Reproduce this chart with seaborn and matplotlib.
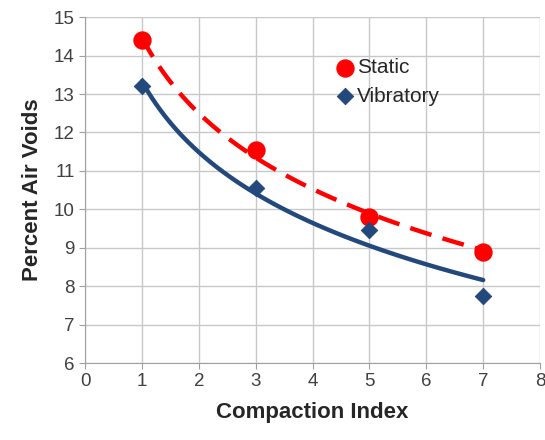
import numpy as np
import pandas as pd
import matplotlib
matplotlib.use("Agg")
import matplotlib.pyplot as plt
import seaborn as sns

compaction = [1, 3, 5, 7]
static = [14.4, 11.55, 9.8, 8.9]
vibratory = [13.2, 10.55, 9.45, 7.75]

sns.set_style("white")
plt.rcParams['font.family'] = ['Liberation Sans', 'DejaVu Sans']

fig, ax = plt.subplots(figsize=(5.45, 4.4), dpi=100)
fig.subplots_adjust(left=0.156, right=0.991, top=0.961, bottom=0.175)

red = "#FF0000"
navy = "#23497C"

# logarithmic trend lines (as in the spreadsheet)
xs = np.linspace(1, 7, 100)
for ys, col, dash in [(static, red, (5, 2.6)), (vibratory, navy, None)]:
    b, a = np.polyfit(np.log(compaction), ys, 1)
    fit = pd.DataFrame({"x": xs, "y": a + b * np.log(xs)})
    sns.lineplot(data=fit, x="x", y="y", color=col, lw=3.2, ax=ax, legend=False)
    if dash:
        ax.lines[-1].set_dashes(dash)

sns.scatterplot(x=compaction, y=static, color=red, marker="o", s=150,
                edgecolor=red, ax=ax, label="Static", zorder=5)
sns.scatterplot(x=compaction, y=vibratory, color=navy, marker="D", s=70,
                edgecolor=navy, ax=ax, label="Vibratory", zorder=5)

ax.set_xlim(0, 8)
ax.set_ylim(6, 15)
ax.set_xticks(range(0, 9))
ax.set_yticks(range(6, 16))
ax.grid(True, color="#C8C8C8", lw=1)
for s in ["top", "right"]:
    ax.spines[s].set_visible(False)
for s in ["left", "bottom"]:
    ax.spines[s].set_color("#A0A0A0")
ax.tick_params(axis="both", labelsize=13.5, length=4,
               direction="out", left=True, bottom=True, color="#A0A0A0")
for t in ax.get_xticklabels() + ax.get_yticklabels():
    t.set_color("#404040")

ax.set_xlabel("Compaction Index", fontsize=16, fontweight="bold", labelpad=8)
ax.set_ylabel("Percent Air Voids", fontsize=16, fontweight="bold", labelpad=8)

ax.legend(loc="upper left", bbox_to_anchor=(0.525, 0.905), frameon=False,
          fontsize=15, handletextpad=0.0, labelspacing=0.45,
          borderaxespad=0, handlelength=1.2)

fig.savefig("out.png", dpi=100)
